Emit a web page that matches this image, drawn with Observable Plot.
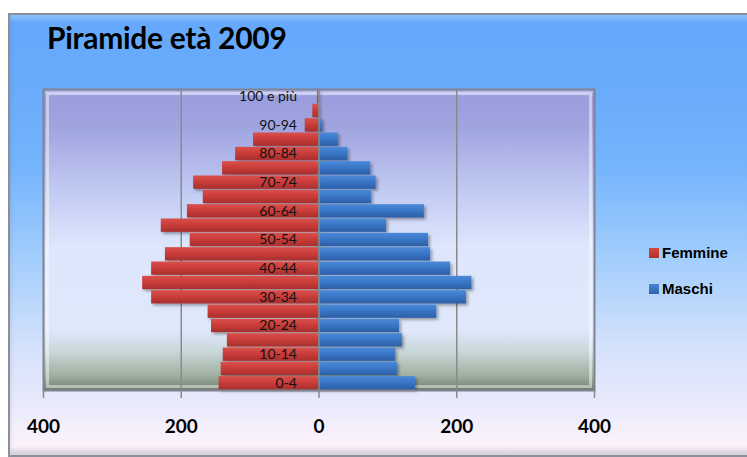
<!DOCTYPE html>
<html>
<head>
<meta charset="utf-8">
<script src="https://cdn.jsdelivr.net/npm/d3@7"></script>
<script src="https://cdn.jsdelivr.net/npm/@observablehq/plot@0.6"></script>
<style>
  body { margin: 0; background: #fff; }
  #wrap { position: relative; width: 747px; height: 457px; overflow: hidden; background: #fff; font-family: Lato, "Open Sans", sans-serif; }
  #bg { position: absolute; left: 8px; top: 13px; width: 745px; height: 440px; border: 2px solid #8b8f9c;
        background: linear-gradient(to bottom, #8cc4fd 0px, #66a8fb 8px, #68aafb 60px, #74b4fc 150px, #a6cffc 250px, #d3e1fb 330px, #e9eafb 390px, #fcf3fb 430px, #f7eef8 444px);
        box-shadow: inset 0 -5px 5px rgba(120,110,130,0.25); }
  #chart { position: absolute; left: 0; top: 0; }
  #title { position: absolute; left: 47px; top: 19px; font: bold 30px Lato, sans-serif; color: #000; letter-spacing: -0.3px; }
  .leg { position: absolute; left: 649px; font: bold 15px "Liberation Sans", Arial, sans-serif; color: #000; display: flex; align-items: center; }
  .leg span.sw { display: inline-block; width: 10px; height: 10px; margin-right: 3px; }
</style>
</head>
<body>
<div id="wrap">
  <div id="bg"></div>
  <div id="chart"></div>
  <div id="title">Piramide età 2009</div>
  <div class="leg" style="top:244px"><span class="sw" style="background:linear-gradient(#d4473f,#b2302c)"></span>Femmine</div>
  <div class="leg" style="top:280px"><span class="sw" style="background:linear-gradient(#4686d6,#2f64ad)"></span>Maschi</div>
</div>
<script>
// Age classes (bottom to top)
const ages = ["0-4","5-9","10-14","15-19","20-24","25-29","30-34","35-39","40-44","45-49","50-54","55-59","60-64","65-69","70-74","75-79","80-84","85-89","90-94","95-99","100 e più"];
const femmine = [145,142,139,133,156,161,243,256,243,223,187,229,191,168,182,140,121,95,20,9,2];
const maschi  = [140,114,111,121,117,171,214,222,191,162,159,98,153,76,83,75,42,28,5,0,0];
const ageLabels = ["0-4","10-14","20-24","30-34","40-44","50-54","60-64","70-74","80-84","90-94","100 e più"];
const xTicks = [-400,-200,0,200,400];

const dataF = ages.map((a,i) => ({age: a, value: -femmine[i]}));
const dataM = ages.map((a,i) => ({age: a, value: maschi[i]}));

const W = 747, H = 457, mTop = 89, mBottom = 67;
const band = (H - mTop - mBottom) / ages.length;

const chart = Plot.plot({
  width: W,
  height: H,
  marginLeft: 43,
  marginRight: 153,
  marginTop: mTop,
  marginBottom: mBottom,
  style: {background: "transparent", fontFamily: "Lato, sans-serif", overflow: "visible"},
  x: {domain: [-400, 400], axis: null},
  y: {domain: ages.slice().reverse(), axis: null, padding: 0, round: false},
  marks: [
    Plot.frame({fill: "url(#plotBg)", stroke: "none"}),
    Plot.frame({stroke: "rgba(255,255,255,0.45)", strokeWidth: 3, inset: 4}),
    Plot.ruleX([-200, 200], {stroke: "#8a8a8a", strokeWidth: 1.5}),
    Plot.barX(dataF, {x: "value", y: "age", fill: "url(#gRed)", insetTop: 0.5, insetBottom: 0.5}),
    Plot.barX(dataM, {x: "value", y: "age", fill: "url(#gBlue)", insetTop: 0.5, insetBottom: 0.5}),
    Plot.ruleX([0], {stroke: "#8a8a8a", strokeWidth: 1.5}),
    Plot.ruleY(ages, {y: d => d, x1: -4, x2: 4, dy: band / 2, stroke: "#8a8a8a", strokeWidth: 1.5}),
    Plot.frame({stroke: "#80828f", strokeWidth: 2}),
    Plot.axisX({ticks: xTicks, tickFormat: d => Math.abs(d), tickSize: 8, tickPadding: 21, label: null,
                stroke: "#8a8a8a", fill: "#000", fontSize: 19, fontWeight: "bold", strokeWidth: 1.5}),
    Plot.text(ageLabels, {x: 0, y: d => d, text: d => d, textAnchor: "end", dx: -22, fontSize: 14, fill: "#111"})
  ]
});

const ns = "http://www.w3.org/2000/svg";
const defs = document.createElementNS(ns, "defs");
defs.innerHTML = `
  <linearGradient id="plotBg" x1="0" y1="0" x2="0" y2="1">
    <stop offset="0" stop-color="#b4b8ef"/>
    <stop offset="0.025" stop-color="#9a9ddc"/>
    <stop offset="0.12" stop-color="#9fa4df"/>
    <stop offset="0.35" stop-color="#c3ccf3"/>
    <stop offset="0.52" stop-color="#dde6fc"/>
    <stop offset="0.8" stop-color="#dfe8fb"/>
    <stop offset="0.87" stop-color="#c9d7da"/>
    <stop offset="0.95" stop-color="#a0b09f"/>
    <stop offset="1" stop-color="#6f7d6f"/>
  </linearGradient>
  <linearGradient id="gRed" x1="0" y1="0" x2="0" y2="1">
    <stop offset="0" stop-color="#d9504b"/>
    <stop offset="0.45" stop-color="#cb3d3a"/>
    <stop offset="1" stop-color="#a72f2d"/>
  </linearGradient>
  <linearGradient id="gBlue" x1="0" y1="0" x2="0" y2="1">
    <stop offset="0" stop-color="#4a8ad9"/>
    <stop offset="0.45" stop-color="#3a77c7"/>
    <stop offset="1" stop-color="#2c5ea6"/>
  </linearGradient>
  <filter id="shadow" x="-10%" y="-20%" width="130%" height="160%">
    <feDropShadow dx="2" dy="2" stdDeviation="1.5" flood-color="#000" flood-opacity="0.35"/>
  </filter>`;
chart.insertBefore(defs, chart.firstChild);
chart.querySelectorAll('g[aria-label="bar"]').forEach(g => g.setAttribute("filter", "url(#shadow)"));
document.getElementById("chart").appendChild(chart);
</script>
</body>
</html>
